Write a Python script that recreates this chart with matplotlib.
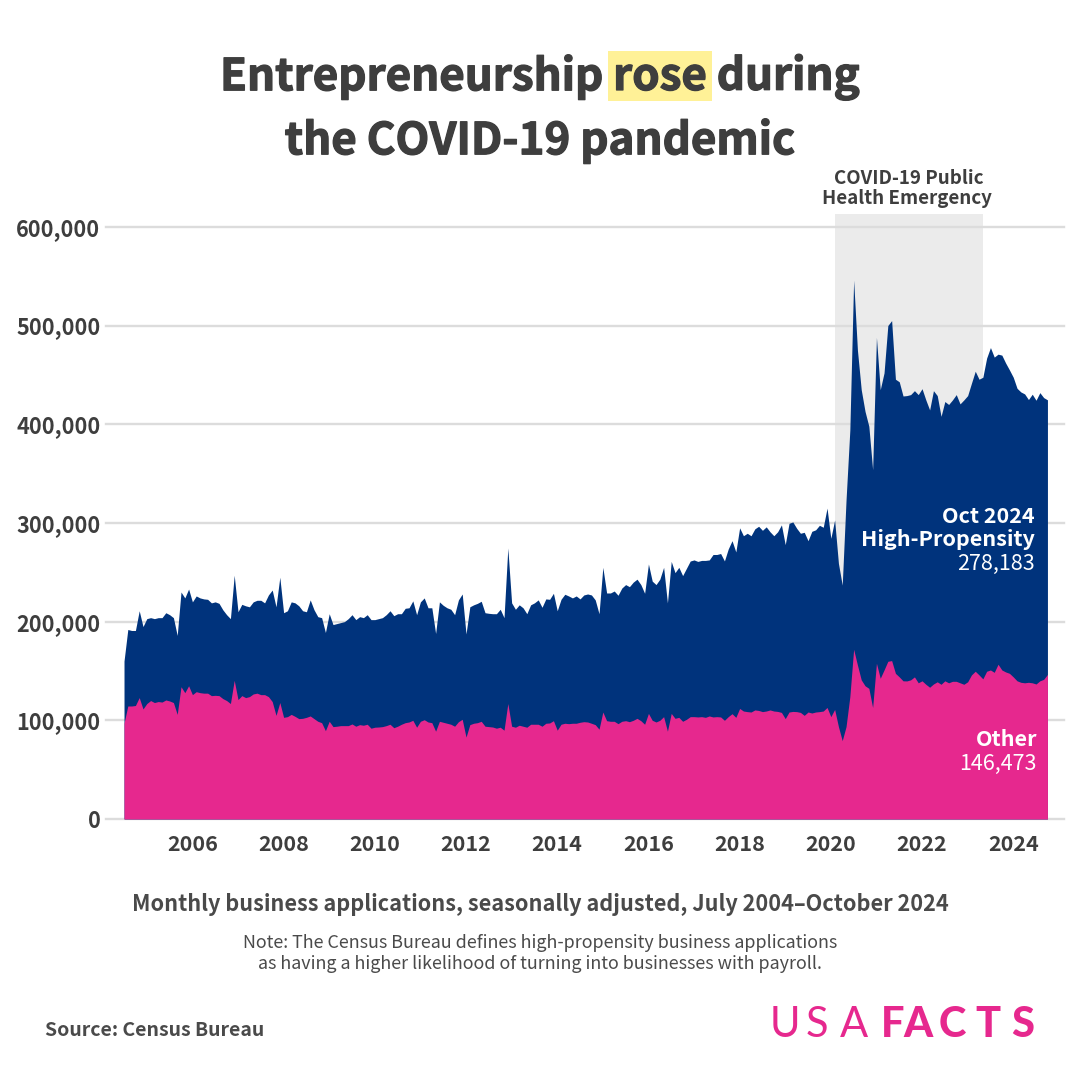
import matplotlib
matplotlib.use("Agg")
import matplotlib.pyplot as plt
import matplotlib.patheffects as pe
from matplotlib.patches import Rectangle
import numpy as np

plt.rcParams['font.family'] = ['Noto Sans CJK JP', 'DejaVu Sans']

# Monthly values, thousands, Jul 2004 - Oct 2024
other = [
    97,114.5,114.5,115,123,111.5,117,120,118,119,118.5,120.6,119.6,118,106,134,128,135,126,129,
    128,127.5,127.5,125,125.3,125,122,120,117,140.5,121,125,123,124,126.7,127.5,126,126,124,119,
    105,118,103,103.7,106,104,101.7,102,103,104.4,101.7,99,97.6,89.5,99,93.6,94,94.6,94.6,94.6,
    96.3,94,95.6,95,96,92,93,93.2,93.6,94.6,96,92.5,94,96,97.6,98.3,100,93,99,100.6,
    98.3,97.6,89,99,98,97,96,94,98.6,101,83,95.6,97,97.6,99,94,93.6,93.2,92,93,
    90,117,94,93,95,94,93,96,96,96,94,97,97.3,99.6,90,96,97,96.6,97,97,
    98,98.6,98.3,97,95.6,91,108.4,99.6,99,99,96.6,99,99.6,98.6,100,102,99.6,96,107,100,
    98.3,100,103.7,89,107,102,103,99,101,103.7,103.7,103.4,103.7,103,104.4,103.4,103.7,103.4,100,103.7,
    106.7,103,112,109.4,108.8,108.4,110.5,110,108.8,109.4,110.5,109.4,109,108,101.7,108.4,109,108.8,108,105,
    108.4,107.4,108.4,108.8,109.4,113,103.7,111,93.6,79.4,93.6,124,172,156,141,135,132.4,113,157.8,142.6,
    151,159.8,160.5,147.6,144,140,139.9,141,144,138,140,136.5,133.5,136.8,139,136.5,140,138,139.5,139.5,
    138,136.5,139,146,149.7,146,142,149.7,151,148.6,156.8,151,149,147.6,144,140,138.5,138,138.5,138,
    136.8,140,141.5,146.5,
]
total = [
    160,192,191,191,211,195,203,204,203,204,204,209,207,204,186,230,224,233,220,226,
    224,223,222.6,219,220,218.5,212,207,203,247,210,217.5,216,215,220,221.6,221.6,219,227,232,
    215,245,209,211,220,219,216,211,210,222,212,205,204,189,208,197,198,199,200,203,
    207,202,205,204,207,202,202,203,204,207,211,206,208,208,213.5,214,221,207,220,224,
    214,214,188,220,216.5,214,212.5,207,222,228,187.5,215,217,218.5,220.6,209,208.4,208,208,212.5,
    204,274.6,219,212.5,217,214,208,217,219,222,214.5,223,222.6,228.7,211,222.6,227.7,226,224,226,
    223,227,228,227,222,208,255,229,229,231,226.7,234,237.5,235.4,240,243,237.5,228.7,258.4,241,
    237.5,243,255,219,261,249.6,255,246.6,254,261.4,262.5,261,262,262,262.5,268,268,269,261.5,273.6,
    282,270.6,295,287,289.5,287,294,296.6,292.5,296,291,287,291,298,278,299.6,301,294.6,289.5,290.5,
    282,291.5,293,297.6,295.6,315,284.4,303,259,237,323,394,546,475,435,413,398,354,488,435,
    452,500,505,445.6,443,428.6,429,430,434,430,436,424.6,414.5,434,429,408,423,420,424.6,430,
    420.6,424.6,429,441.5,453.7,445.6,447.6,467,477.7,468,471,470,462,455,447.6,436.4,432.7,430.7,425,430.4,
    424.3,432,427,424.7,
]
assert len(other) == len(total) == 244, (len(other), len(total))
start_year = 2004.5
years = [start_year + i / 12 for i in range(len(total))]
emergency = (2020 + 1/12, 2023 + 4/12)
y_ticks = [0, 100, 200, 300, 400, 500, 600]
y_labels = ['0', '100,000', '200,000', '300,000', '400,000', '500,000', '600,000']
x_ticks = list(range(2006, 2025, 2))

NAVY = '#00337c'
PINK = '#e6288e'
DARK = '#3e3e3e'

W = H = 1080
fig = plt.figure(figsize=(W/100, H/100), dpi=100, facecolor='white')
ax = fig.add_axes([106/W, 1-819/H, (1064-106)/W, (819-214)/H])
ax.set_xlim(2004.105, 2025.113)
ax.set_ylim(0, 613)
for s in ax.spines.values():
    s.set_visible(False)
ax.set_axisbelow(True)
ax.yaxis.grid(True, color='#dcdcdc', lw=1.7)
ax.xaxis.grid(False)
ax.set_yticks(y_ticks, y_labels, fontsize=15.6, fontweight='bold', color=DARK)
ax.set_xticks(x_ticks, [str(v) for v in x_ticks], fontsize=15.5, fontweight='bold', color=DARK)
ax.tick_params(axis='y', length=0, pad=4)
ax.tick_params(axis='x', length=0, pad=11)
for t in ax.get_ygridlines():
    t.set_clip_on(False)

ax.axvspan(*emergency, color='#ebebeb', lw=0, zorder=0.5)
ax.fill_between(years, 0, total, color=NAVY, lw=0, zorder=2)
ax.fill_between(years, 0, other, color=PINK, lw=0, zorder=3)

def T(x, y, s, **kw):
    return fig.text(x/W, 1-y/H, s, **kw)

fig.patches.append(Rectangle((608/W, 1-101/H), 104/W, 50/H, transform=fig.transFigure,
                             facecolor='#fff197', edgecolor='none', zorder=-1))
title_kw = dict(va='center', fontsize=31.6, fontweight='bold', color=DARK, zorder=3,
                path_effects=[pe.withStroke(linewidth=0.9, foreground=DARK)])
T(220, 77, 'Entrepreneurship', ha='left', **title_kw)
T(660, 77, 'rose', ha='center', **title_kw)
T(860, 77, 'during', ha='right', **title_kw)
T(540, 141, 'the COVID-19 pandemic', ha='center', **title_kw)

T(909, 179, 'COVID-19 Public', ha='center', va='center', fontsize=13.5, fontweight='bold', color=DARK)
T(907, 199, 'Health Emergency', ha='center', va='center', fontsize=13.5, fontweight='bold', color=DARK)

T(1035, 516, 'Oct 2024', ha='right', va='center', fontsize=15.5, fontweight='bold', color='white', zorder=5)
T(1035, 540, 'High-Propensity', ha='right', va='center', fontsize=15.5, fontweight='bold', color='white', zorder=5)
T(1035, 564, '278,183', ha='right', va='center', fontsize=15.5, color='white', zorder=5)
T(1037, 740, 'Other', ha='right', va='center', fontsize=15.5, fontweight='bold', color='white', zorder=5)
T(1037, 764, '146,473', ha='right', va='center', fontsize=15.5, color='white', zorder=5)

T(540, 904, 'Monthly business applications, seasonally adjusted, July 2004–October 2024',
  ha='center', va='center', fontsize=15.6, fontweight='bold', color='#4a4a4a')
T(540, 943, 'Note: The Census Bureau defines high-propensity business applications',
  ha='center', va='center', fontsize=12.9, color='#4a4a4a')
T(540, 964, 'as having a higher likelihood of turning into businesses with payroll.',
  ha='center', va='center', fontsize=12.9, color='#4a4a4a')
T(45, 1031, 'Source: Census Bureau', ha='left', va='center', fontsize=14.0, fontweight='bold', color='#4a4a4a')

logo_left = [(770, 'U'), (806, 'S'), (840, 'A')]
logo_right = [(881, 'F'), (903, 'A'), (939, 'C'), (975, 'T'), (1011, 'S')]
for x0, ch in logo_left:
    T(x0, 1037, ch, ha='left', va='baseline', fontsize=30, fontfamily='Lato', fontweight='normal', color=PINK)
for x0, ch in logo_right:
    T(x0, 1037, ch, ha='left', va='baseline', fontsize=30, fontfamily='Lato', fontweight='black', color=PINK)

fig.savefig('out.png', dpi=100, facecolor='white')
